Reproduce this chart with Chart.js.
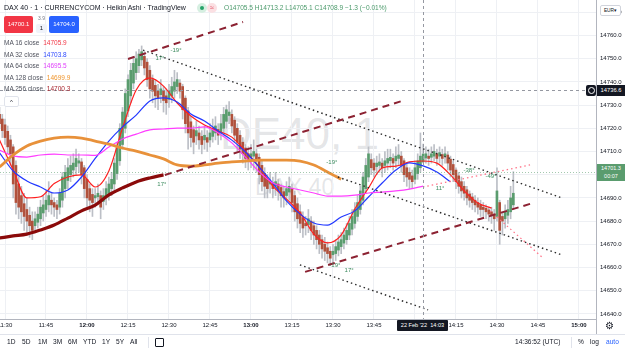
<!DOCTYPE html>
<html>
<head>
<meta charset="utf-8">
<script src="https://cdn.jsdelivr.net/npm/chart.js@4/dist/chart.umd.min.js"></script>
<style>
  html, body { margin: 0; padding: 0; background: #fff; }
  body { width: 625px; height: 352px; overflow: hidden; position: relative;
         font-family: "Liberation Sans", Arial, sans-serif; color: #131722; }
  #wrap { position: absolute; left: 0; top: 0; width: 625px; height: 335px; }
  #chart { position: absolute; left: 0; top: 0; }
  .wm  { position: absolute; color: rgba(120,123,134,0.2); white-space: nowrap; line-height: 1; }
  .ov  { position: absolute; white-space: nowrap; line-height: 1; }
  .box { position: absolute; color: #fff; text-align: center; border-radius: 2px; }
  .ang { position: absolute; white-space: nowrap; line-height: 1; font-size: 6px;
         color: #3b8a5e; transform: translate(-50%, -50%); }
  .leg b { font-weight: normal; }
</style>
</head>
<body>
<div id="wrap">
  <div class="wm" style="left:220px;top:112px;font-size:44px;">DE40, 1</div>
  <div class="wm" style="left:255px;top:176px;font-size:23px;">DAX 40</div>
  <canvas id="chart" width="625" height="335"></canvas>
</div>

<!-- header -->
<div class="ov" style="left:4px;top:4px;font-size:7px;color:#131722;">DAX 40 · 1 · CURRENCYCOM · Heikin Ashi · TradingView</div>
<div class="ov" style="left:197px;top:3px;width:10px;height:10px;border-radius:5px;background:#d6efe1;"></div>
<div class="ov" style="left:200px;top:6px;width:4px;height:4px;border-radius:2px;background:#26a269;"></div>
<div class="ov" style="left:207px;top:3px;width:10px;height:10px;border-radius:5px;background:#fbe0e3;color:#e0455a;font-size:7px;text-align:center;line-height:10px;">≈</div>
<div class="ov" style="left:224px;top:4.5px;font-size:6.6px;color:#4b9a6b;">O14705.5 H14713.2 L14705.1 C14708.9 −1.3 (−0.01%)</div>

<div class="box" style="left:4px;top:16px;width:29px;height:17px;background:#f23645;font-size:6px;line-height:17px;">14700.1</div>
<div class="ov" style="left:38px;top:16px;font-size:5px;color:#787b86;">3.9</div>
<div class="ov" style="left:36px;top:24px;width:11px;height:9px;background:#f0f3fa;border-radius:2px;font-size:6px;text-align:center;line-height:9px;">1</div>
<div class="box" style="left:49px;top:16px;width:30px;height:17px;background:#2962ff;font-size:6px;line-height:17px;">14704.0</div>

<div class="ov leg" style="left:4px;top:40px;font-size:6.5px;color:#50535e;">MA 16 close <b style="color:#f23645;margin-left:2px;">14705.9</b></div>
<div class="ov leg" style="left:4px;top:51.5px;font-size:6.5px;color:#50535e;">MA 32 close <b style="color:#2f4bff;margin-left:2px;">14703.8</b></div>
<div class="ov leg" style="left:4px;top:63px;font-size:6.5px;color:#50535e;">MA 64 close <b style="color:#e040fb;margin-left:2px;">14695.5</b></div>
<div class="ov leg" style="left:4px;top:74.5px;font-size:6.5px;color:#50535e;">MA 128 close <b style="color:#f0962e;margin-left:2px;">14699.9</b></div>
<div class="ov leg" style="left:4px;top:86px;font-size:6.5px;color:#50535e;">MA 256 close <b style="color:#a8262f;margin-left:2px;">14700.3</b></div>
<div class="ov" style="left:4px;top:96px;width:13px;height:9px;border:1px solid #e0e3eb;border-radius:2px;background:#fff;font-size:6px;text-align:center;line-height:10px;color:#131722;">^</div>

<!-- price axis labels -->
<div class="ov" style="left:600px;top:5px;width:19px;height:9px;border:1px solid #d1d4dc;border-radius:2px;background:#fff;font-size:4.8px;text-align:center;line-height:9px;color:#131722;">EUR▾</div>
<div class="ov" style="left:586px;top:85px;width:10px;height:11px;background:#131722;border-radius:2px;"></div>
<div class="ov" style="left:588px;top:87px;width:5px;height:5px;border:1px solid #fff;border-radius:4px;"></div>
<div class="box" style="left:597px;top:85px;width:28px;height:11px;background:#131722;font-size:5.8px;line-height:11px;border-radius:0;">14736.6</div>
<div class="box" style="left:597px;top:164px;width:28px;height:17px;background:#5a9c6e;font-size:5.5px;line-height:7.5px;padding-top:1px;box-sizing:border-box;border-radius:0;">14701.3<br>00:07</div>

<!-- time axis crosshair label -->
<div class="box" style="left:397px;top:320px;width:51px;height:11px;background:#131722;font-size:5.6px;line-height:11px;border-radius:1px;">22 Feb '22&nbsp;&nbsp;14:03</div>
<div class="ov" style="left:596px;top:319px;width:1px;height:16px;background:#b2b5be;"></div>
<div class="ov" style="left:605px;top:321px;font-size:10px;color:#131722;">⚙</div>

<!-- bottom toolbar -->
<div class="ov" style="left:0;top:334px;width:625px;height:1px;background:#e0e3eb;"></div>
<div class="ov" style="left:7px;top:339px;font-size:6.6px;color:#131722;">
  <span style="position:absolute;left:0">1D</span><span style="position:absolute;left:15px">5D</span><span style="position:absolute;left:31px">1M</span><span style="position:absolute;left:46px">3M</span><span style="position:absolute;left:61px">6M</span><span style="position:absolute;left:76px">YTD</span><span style="position:absolute;left:95px">1Y</span><span style="position:absolute;left:109px">5Y</span><span style="position:absolute;left:123px">All</span>
</div>
<div class="ov" style="left:148px;top:337px;width:1px;height:11px;background:#e0e3eb;"></div>
<div class="ov" style="left:155px;top:338px;width:7px;height:7px;border:1px solid #131722;border-radius:1px;"></div>
<div class="ov" style="left:515px;top:339px;font-size:6.6px;color:#131722;">14:36:52 (UTC)</div>
<div class="ov" style="left:571px;top:337px;width:1px;height:11px;background:#e0e3eb;"></div>
<div class="ov" style="left:578px;top:339px;font-size:6.6px;color:#131722;">%</div>
<div class="ov" style="left:590px;top:339px;font-size:6.6px;color:#131722;">log</div>
<div class="ov" style="left:606px;top:339px;font-size:6.6px;color:#2962ff;">auto</div>

<script>
/* ─── Data ─────────────────────────────────────────────────────────────────── */

// Heikin Ashi 1-minute bars, first bar at 11:28, one bar per minute
const firstBar = '11:28';

const haOpen = [
  14726, 14724, 14721.5, 14718.7, 14715, 14712, 14704, 14696, 14691, 14687.5,
  14685, 14682.5, 14680, 14678, 14679.5, 14681, 14683.5, 14685, 14687, 14689,
  14688, 14687, 14686, 14689, 14694, 14697.5, 14700, 14702, 14703.5, 14705,
  14705.5, 14703, 14698, 14694, 14691.5, 14690, 14690.5, 14691, 14688.5, 14690,
  14692, 14694, 14696, 14700.5, 14706, 14713, 14720, 14727.5, 14734, 14739.5,
  14744, 14747, 14749.5, 14751, 14748.5, 14745, 14741, 14738.5, 14736, 14734.5,
  14736, 14734, 14732.5, 14734, 14736, 14738, 14739.5, 14738, 14733, 14727.5,
  14722.8, 14719.4, 14716.7, 14718, 14716.5, 14715, 14716, 14715, 14716.5, 14718,
  14719.5, 14718, 14720, 14723, 14725.5, 14726, 14723.5, 14720, 14717, 14714,
  14711.5, 14709, 14707.5, 14708, 14709, 14707.5, 14704, 14700.5, 14698, 14696,
  14696.5, 14695, 14696, 14694.5, 14692.7, 14691, 14692.5, 14694, 14691, 14687.5,
  14684, 14681.5, 14679, 14678.5, 14680, 14678, 14676, 14674, 14672, 14670,
  14668.5, 14667, 14665.5, 14666, 14667.5, 14669, 14670.5, 14672, 14674, 14676.5,
  14679, 14682, 14685, 14689, 14694, 14699, 14706.5, 14705, 14703.5, 14704,
  14705, 14704, 14705, 14706, 14707, 14706, 14707, 14708, 14706, 14703,
  14701, 14699.5, 14698, 14700.5, 14703, 14705.5, 14707.2, 14708, 14707.5, 14708,
  14709, 14708, 14708.7, 14708, 14708.5, 14706.7, 14704.4, 14702, 14699.5, 14697,
  14695, 14693.5, 14691.7, 14690.4, 14689, 14688, 14687, 14686, 14685.5, 14684.8,
  14684, 14683, 14682, 14688, 14682, 14681, 14682.5, 14684, 14687
];

const haClose = [
  14722, 14719, 14716, 14712, 14709, 14696, 14688, 14686, 14684, 14682,
  14680, 14678, 14676, 14681, 14683, 14686, 14687, 14689, 14691, 14687,
  14686, 14685, 14692, 14699, 14701, 14703, 14704, 14705, 14707, 14706,
  14700, 14694, 14690, 14689, 14688, 14691, 14692, 14686, 14691, 14694,
  14696, 14698, 14705, 14712, 14720, 14727, 14735, 14741, 14745, 14748,
  14750, 14752, 14753, 14746, 14741, 14737, 14736, 14734, 14733, 14737,
  14732, 14731, 14736, 14738, 14740, 14741, 14736, 14728, 14722, 14718,
  14716, 14714, 14719, 14715, 14713, 14717, 14714, 14718, 14720, 14721,
  14717, 14722, 14726, 14728, 14727, 14721, 14717, 14714, 14711, 14709,
  14707, 14706, 14709, 14710, 14706, 14700, 14697, 14695, 14694, 14697,
  14694, 14697, 14693, 14691, 14690, 14694, 14695, 14688, 14684, 14681,
  14679, 14677, 14678, 14681, 14676, 14674, 14672, 14670, 14668, 14667,
  14666, 14664, 14667, 14669, 14671, 14672, 14674, 14676, 14679, 14682,
  14685, 14688, 14693, 14699, 14704, 14709, 14703, 14702, 14705, 14705.5,
  14703, 14706, 14707, 14707.5, 14705, 14708, 14708.5, 14704, 14700, 14699,
  14698, 14697, 14703, 14706, 14708, 14708.9, 14709, 14707, 14709, 14710,
  14707, 14709.5, 14707, 14709, 14705, 14702, 14700, 14697, 14695, 14693,
  14692, 14690, 14689, 14688, 14687, 14686, 14685, 14685, 14684, 14683,
  14682.5, 14681, 14693, 14676, 14680, 14684, 14685, 14690, 14692
];

const haHigh = [
  14729, 14726, 14724, 14721, 14717, 14713, 14706, 14699, 14695, 14692,
  14690, 14686, 14684, 14684, 14686, 14689, 14691, 14693, 14697, 14692,
  14690, 14689, 14694, 14701, 14704, 14707, 14708, 14709, 14711, 14709,
  14707, 14704, 14700, 14696, 14694, 14694, 14696, 14693, 14694, 14697,
  14699, 14701, 14707, 14714, 14722, 14729, 14737, 14743, 14748, 14751,
  14753, 14754, 14755.5, 14753, 14750, 14747, 14743, 14741, 14739, 14741,
  14738, 14737, 14739, 14742, 14745, 14744, 14741, 14739, 14734, 14729,
  14725, 14721, 14723, 14721, 14719, 14721, 14719, 14722, 14724, 14725,
  14722, 14726, 14729, 14730, 14731.5, 14728, 14725, 14722, 14719, 14716,
  14713, 14712, 14713, 14715, 14711, 14709, 14706, 14703, 14700, 14701,
  14699, 14701, 14698, 14696, 14695, 14697, 14699, 14696, 14693, 14690,
  14687, 14684, 14682, 14685, 14682, 14680, 14678, 14676, 14674, 14673,
  14671, 14669, 14670, 14672, 14674, 14675, 14677, 14679, 14682, 14685,
  14688, 14691, 14695, 14701, 14707, 14712, 14709, 14707, 14708, 14709,
  14707, 14710, 14711, 14711, 14709, 14712, 14713, 14710, 14707, 14705,
  14703, 14702, 14706, 14709, 14718, 14713.2, 14712, 14711, 14712, 14713,
  14711, 14712, 14711, 14712, 14710, 14708, 14706, 14703, 14701, 14699,
  14697, 14695, 14693, 14692, 14691, 14690, 14689, 14688, 14687, 14686,
  14686, 14685, 14703, 14689, 14684, 14687, 14689, 14695, 14701.3
];

const haLow = [
  14720, 14716, 14713, 14709, 14704, 14690, 14683, 14681, 14679, 14676,
  14675, 14673, 14672, 14675, 14677, 14678, 14680, 14682, 14684, 14683,
  14682, 14681, 14683, 14686, 14690, 14694, 14697, 14699, 14700, 14701,
  14696, 14690, 14686, 14684, 14682, 14686, 14687, 14681, 14685, 14687,
  14689, 14691, 14693, 14698, 14704, 14711, 14718, 14725, 14731, 14737,
  14741, 14744, 14747, 14743, 14738, 14733, 14731, 14729, 14728, 14731,
  14727, 14726, 14729, 14731, 14733, 14735, 14733, 14724, 14718, 14711,
  14712, 14709, 14713, 14711, 14709, 14711, 14710, 14712, 14714, 14715,
  14713, 14715, 14717, 14720, 14722, 14718, 14714, 14710, 14707, 14705,
  14703, 14702, 14703, 14702, 14701, 14696, 14693, 14690, 14690, 14692,
  14690, 14691, 14689, 14686, 14686, 14687, 14689, 14684, 14680, 14677,
  14675, 14673, 14674, 14675, 14672, 14670, 14668, 14666, 14664, 14663,
  14662, 14661.5, 14662, 14663, 14665, 14666, 14668, 14670, 14672, 14674,
  14677, 14680, 14683, 14687, 14692, 14697, 14700, 14699, 14700, 14701,
  14699, 14701, 14702, 14703, 14702, 14703, 14704, 14701, 14697, 14695,
  14694, 14694, 14696, 14698, 14701, 14705.1, 14705, 14704, 14705, 14706,
  14704, 14705, 14704, 14705, 14702, 14699, 14697, 14694, 14692, 14690,
  14689, 14687, 14686, 14685, 14684, 14683, 14682, 14682, 14681, 14680,
  14679, 14676, 14680, 14670, 14674, 14677, 14679, 14681, 14685
];

// moving averages, read every 5th bar (bar index from firstBar)
const maBars = [0, 5, 10, 15, 20, 25, 30, 35, 40, 45, 50, 55, 60, 65, 70, 75, 80, 85, 90,
                95, 100, 105, 110, 115, 120, 125, 130, 135, 140, 145, 150, 155, 160, 165, 170, 175, 180, 185];
const ma16 = [14715, 14702, 14690, 14690.5, 14696.2, 14699, 14699.9, 14694.7, 14701.6, 14720.1,
              14736.5, 14741.7, 14738.2, 14730.9, 14725.3, 14721.4, 14718.8, 14716.2, 14710.2, 14703.3,
              14695.1, 14689.5, 14683.5, 14674.4, 14670.6, 14674, 14685.2, 14694.3, 14702.9, 14703.7,
              14705.5, 14705.9, 14705, 14699.9, 14693, 14687.8, 14685.6, null];
const ma32 = [14709.4, 14701.6, 14697.3, 14694.7, 14692.1, 14693.4, 14699, 14707, 14714.5, 14720.6,
              14725.7, 14731.8, 14733.1, 14731.3, 14726.2, 14723.1, 14718.8, 14714.9, 14709.8, 14703.3,
              14696.4, 14688.7, 14683, 14679.2, 14678.3, 14681.8, 14684.4, 14690.4, 14696.4, 14702,
              14705.1, 14703.8, 14701.2, 14696.9, null, null, null, null];
const ma64 = [14710.6, 14708.1, 14707.6, 14708.5, 14708.9, 14708.5, 14708.5, 14708.3, 14711.9, 14715.4,
              14717.5, 14719.3, 14719.7, 14720.1, 14720.1, 14720.6, 14718, 14713.7, 14707.6, 14701.2,
              14696.4, 14694.7, 14693.4, 14692.1, 14690.8, 14690.8, 14691.2, 14692.1, 14692.5, 14693,
              14693.8, 14695.1, null, null, null, null, null, null];
const ma128 = [14703.3, 14708.5, 14712.4, 14714.5, 14715.8, 14716.2, 14715.8, 14714.5, 14713.2, 14711.5,
               14710.2, 14708.5, 14706.8, 14704.2, 14703.7, 14704.2, 14705, 14705.5, 14705.9, 14706.3,
               14706.3, 14706.3, 14705.9, 14704.2, 14701.2, 14698, null, null, null, null,
               null, null, null, null, null, null, null, null];
const ma256 = [14672.7, 14673.6, 14674.4, 14676.2, 14678.3, 14681.3, 14684.4, 14686.9, 14691.3, 14694.3,
               14696.9, 14698.6, 14699.9, null, null, null, null, null, null, null,
               null, null, null, null, null, null, null, null, null, null,
               null, null, null, null, null, null, null, null];

// axis ticks
const timeLabels = ['11:30', '11:45', '12:00', '12:15', '12:30', '12:45', '13:00', '13:15',
                    '13:30', '13:45', '14:00', '14:15', '14:30', '14:45', '15:00'];
const priceTicks = [14640, 14650, 14660, 14670, 14680, 14690, 14700, 14710,
                    14720, 14730, 14740, 14750, 14760, 14770];

// drawings: [start, end] as [minute of day, price]
const dashedLines = [
  [[735.0, 14749.9], [777.1, 14765.8]],
  [[748.5, 14699.9], [836.4, 14732.2]],
  [[799.8, 14658.1], [883.2, 14687.8]],
];
const dottedLines = [
  [[740.5, 14753.7], [893.8, 14690.0]],
  [[811.8, 14699.0], [893.8, 14665.4]],
  [[797.9, 14661.1], [844.8, 14641.7]],
];
const pinkLines = [
  [[842.9, 14694.7], [882.1, 14704.2]],
  [[867.5, 14684.4], [886.8, 14664.1]],
];
const angleLabels = [
  ['-19°', 752.6, 14753.7], ['17°', 746.7, 14750.3], ['17°', 747.4, 14696.0],
  ['-19°', 809.6, 14705.5], ['-19°', 810.7, 14661.1], ['17°', 815.9, 14658.9],
  ['11°', 849.2, 14694.3], ['-38°', 859.8, 14702.0], ['-49°', 867.8, 14699.4],
];

const crosshairTime  = '14:03';
const crosshairPrice = 14736.6;
const lastPrice      = 14701.3;

/* ─── Helpers ──────────────────────────────────────────────────────────────── */

const toMin = s => { const [h, m] = s.split(':').map(Number); return h * 60 + m; };
const barMin = i => toMin(firstBar) + i;

const X_MIN = 688.17, X_MAX = 906.24;
const Y_MIN = 14637.8, Y_MAX = 14775.3;

const UP = '#5a9c6e', DOWN = '#b0513c', WICK = '#bcbfc6', GRID = '#eef0f4';
const FONT = '"Liberation Sans", Arial, sans-serif';

function maSeries(values) {
  return values
    .map((v, k) => (v == null ? null : { x: barMin(maBars[k]), y: v }))
    .filter(Boolean);
}

function drawing(seg, color, width, dash) {
  return {
    type: 'line',
    data: seg.map(([x, y]) => ({ x, y })),
    borderColor: color, borderWidth: width, borderDash: dash,
    pointRadius: 0, order: 1, fill: false,
  };
}

function maLine(values, color, width) {
  return {
    type: 'line', data: maSeries(values),
    borderColor: color, borderWidth: width,
    pointRadius: 0, cubicInterpolationMode: 'monotone', order: 2, fill: false,
  };
}

/* ─── Crosshair + price line plugin ────────────────────────────────────────── */

const overlayLines = {
  id: 'overlayLines',
  afterDatasetsDraw(chart) {
    const { ctx, chartArea: a, scales: { x, y } } = chart;
    ctx.save();
    ctx.lineWidth = 1;

    // last price line
    const py = Math.round(y.getPixelForValue(lastPrice)) + 0.5;
    ctx.strokeStyle = 'rgba(90,156,110,0.55)';
    ctx.setLineDash([1, 2]);
    ctx.beginPath(); ctx.moveTo(a.left, py); ctx.lineTo(a.right, py); ctx.stroke();

    // crosshair
    ctx.strokeStyle = '#9598a1';
    ctx.setLineDash([3, 3]);
    const cy = Math.round(y.getPixelForValue(crosshairPrice)) + 0.5;
    ctx.beginPath(); ctx.moveTo(a.left, cy); ctx.lineTo(a.right, cy); ctx.stroke();
    const cx = Math.round(x.getPixelForValue(toMin(crosshairTime))) + 0.5;
    ctx.beginPath(); ctx.moveTo(cx, a.top); ctx.lineTo(cx, a.bottom); ctx.stroke();
    ctx.restore();
  },
};

/* ─── Chart ────────────────────────────────────────────────────────────────── */

const wickData = haHigh.map((h, i) => ({ x: barMin(i), y: [haLow[i], h] }));
const bodyData = haOpen.map((o, i) => ({ x: barMin(i), y: [o, haClose[i]] }));
const bodyColors = haOpen.map((o, i) => (haClose[i] >= o ? UP : DOWN));

const chart = new Chart(document.getElementById('chart'), {
  type: 'bar',
  data: {
    datasets: [
      { data: wickData, backgroundColor: WICK, barThickness: 1, grouped: false, order: 5 },
      { data: bodyData, backgroundColor: bodyColors, barThickness: 2, minBarLength: 1, grouped: false, order: 4 },
      maLine(ma256, '#8b0a0a', 3.2),
      maLine(ma128, '#e8913a', 2.8),
      maLine(ma64,  '#ff3dff', 1.2),
      maLine(ma32,  '#2238ff', 1.2),
      maLine(ma16,  '#ff1f1f', 1.2),
      ...dashedLines.map(s => drawing(s, '#8c2232', 2, [7, 5])),
      ...dottedLines.map(s => drawing(s, '#2a2a2a', 1.4, [1.5, 3])),
      ...pinkLines.map(s => drawing(s, '#ff7388', 1.3, [1.5, 3])),
    ],
  },
  options: {
    responsive: false,
    animation: false,
    layout: { padding: 0 },
    plugins: { legend: { display: false }, tooltip: { enabled: false } },
    scales: {
      x: {
        type: 'linear', min: X_MIN, max: X_MAX, offset: false,
        grid: { color: GRID, offset: false, drawTicks: false },
        border: { color: '#b2b5be' },
        ticks: {
          autoSkip: false, maxRotation: 0, padding: 3, color: '#131722',
          font: ctx => ({ family: FONT, size: 6, weight: (ctx.tick && ctx.tick.value % 60 === 0) ? 'bold' : 'normal' }),
          callback: (v, i) => (timeLabels[i] === '14:00' ? '' : timeLabels[i]),
        },
        afterBuildTicks: s => { s.ticks = timeLabels.map(t => ({ value: toMin(t) })); },
        afterFit: s => { s.height = 16; s.paddingLeft = 0; s.paddingRight = 0; },
      },
      y: {
        position: 'right', min: Y_MIN, max: Y_MAX,
        grid: { color: GRID, drawTicks: false },
        border: { color: '#b2b5be' },
        ticks: {
          padding: 4, color: '#131722', font: { family: FONT, size: 6 },
          callback: v => (v === 14700 ? '' : v.toFixed(1)),
        },
        afterBuildTicks: s => { s.ticks = priceTicks.map(v => ({ value: v })); },
        afterFit: s => { s.width = 29; s.paddingTop = 0; s.paddingBottom = 0; },
      },
    },
  },
  plugins: [overlayLines],
});

/* ─── Angle labels placed through the scales ───────────────────────────────── */

const wrap = document.getElementById('wrap');
angleLabels.forEach(([txt, t, p]) => {
  const el = document.createElement('div');
  el.className = 'ang';
  el.textContent = txt;
  el.style.left = chart.scales.x.getPixelForValue(t) + 'px';
  el.style.top  = chart.scales.y.getPixelForValue(p) + 'px';
  wrap.appendChild(el);
});
</script>
</body>
</html>
